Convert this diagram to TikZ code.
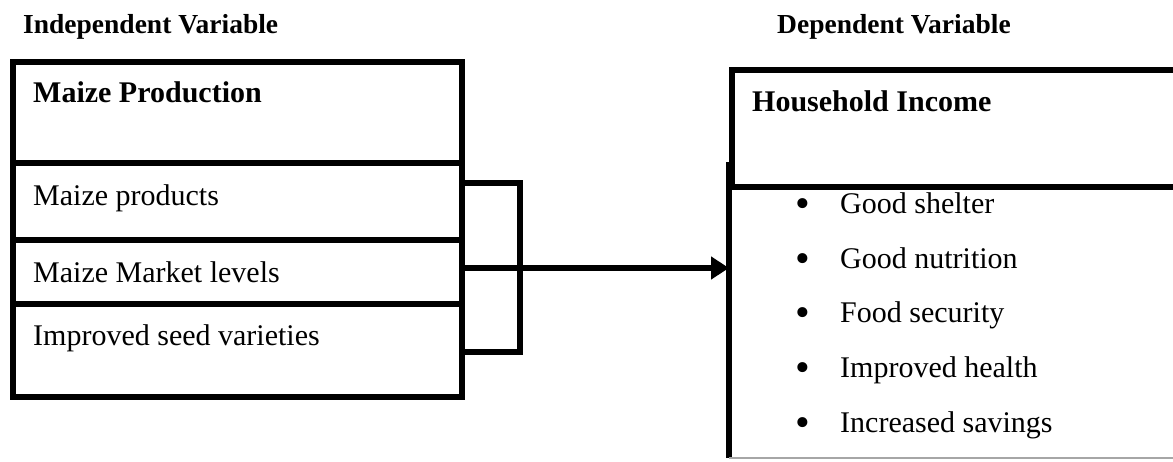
\documentclass[tikz,border=0pt]{standalone}
\usepackage{fontspec}
\setmainfont{Liberation Serif}
\usetikzlibrary{arrows.meta}
\begin{document}
\begin{tikzpicture}[x=1pt,y=-1pt,
  box/.style={draw, line width=6.5pt, rectangle, inner sep=0pt, outer sep=0pt},
  conn/.style={line width=6.5pt},
  lbl/.style={anchor=base west, inner sep=0pt, font=\fontsize{30}{36}\selectfont},
  hlbl/.style={anchor=base west, inner sep=0pt, font=\fontsize{30}{36}\selectfont\bfseries},
  vlbl/.style={anchor=base west, inner sep=0pt, font=\fontsize{27.5}{33}\selectfont\bfseries},
  bul/.style={anchor=base, inner sep=0pt, font=\fontsize{42}{48}\selectfont}]
\useasboundingbox (0,0) rectangle (1173,461);
\clip (0,0) rectangle (1173,461);
% headings
\node[vlbl] (indep) at (23,33) {Independent Variable};
\node[vlbl] (dep) at (777,33) {Dependent Variable};
% left boxes
\node[box, minimum width=449pt, minimum height=101pt] (head) at (237.5,112.5) {};
\node[box, minimum width=449pt, minimum height=77pt] (row1) at (237.5,201.5) {};
\node[box, minimum width=449pt, minimum height=64pt] (row2) at (237.5,272) {};
\node[box, minimum width=449pt, minimum height=93pt] (row3) at (237.5,350.5) {};
\node[hlbl] (mp) at (33,102) {Maize Production};
\node[lbl] (t1) at (33,205) {Maize products};
\node[lbl] (t2) at (33,282) {Maize Market levels};
\node[lbl] (t3) at (33,345) {Improved seed varieties};
% right boxes
\node[rectangle, inner sep=0pt, outer sep=0pt, minimum width=471pt, minimum height=293pt] (low) at (964.5,311.5) {};
\draw[conn] (low.south west) -- (low.north west) -- (low.north east);
\draw[gray!70, line width=1.5pt] (low.south west) -- (low.south east);
\node[box, fill=white, minimum width=468pt, minimum height=117pt] (hhead) at (966,128.5) {};
\node[hlbl] (hi) at (752,111) {Household Income};
\foreach \y/\t [count=\i] in {213/Good shelter, 268/Good nutrition, 322/Food security, 377/Improved health, 432/Increased savings} {
  \node[bul] (b\i) at (803,\y+4.5) {•};
  \node[lbl] (o\i) at (840,\y) {\t};
}
% connectors
\coordinate (bt) at (520,183);
\coordinate (bb) at (520,352);
\draw[conn] (row1.east |- bt) -- (bt) -- (bb) -- (row3.east |- bb);
\draw[conn, -{Triangle[length=18pt,width=22pt]}] ([yshift=4pt]row2.east) -- ([yshift=4pt]row2.east -| low.west);
\end{tikzpicture}
\end{document}
